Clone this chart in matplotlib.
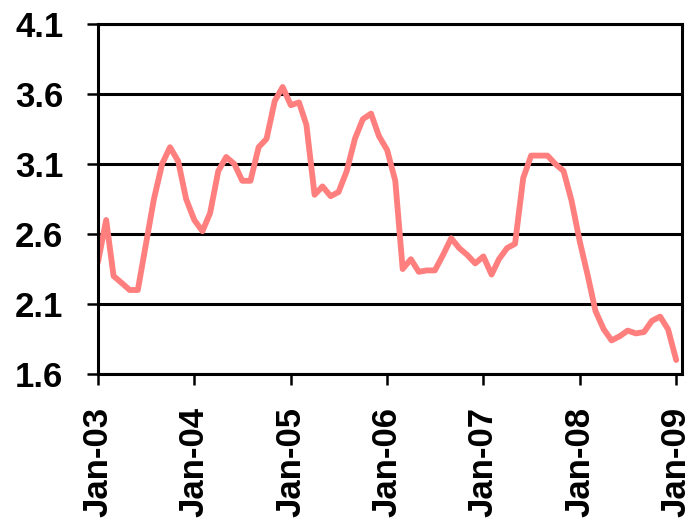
import matplotlib
matplotlib.use("Agg")
import matplotlib.pyplot as plt
import matplotlib.dates as mdates
import pandas as pd
import numpy as np

LINE_COLOR = '#FF7F7F'

# monthly values, Jan-03 .. Jan-09
values = [
    2.40, 2.70, 2.30, 2.25, 2.20, 2.20, 2.52, 2.85, 3.10, 3.22, 3.12, 2.85,  # 2003
    2.70, 2.62, 2.75, 3.05, 3.15, 3.10, 2.98, 2.98, 3.22, 3.28, 3.55, 3.65,  # 2004
    3.52, 3.54, 3.38, 2.88, 2.94, 2.87, 2.90, 3.05, 3.28, 3.42, 3.46, 3.30,  # 2005
    3.20, 2.98, 2.35, 2.42, 2.33, 2.34, 2.34, 2.45, 2.57, 2.50, 2.45, 2.39,  # 2006
    2.44, 2.31, 2.42, 2.50, 2.53, 3.00, 3.16, 3.16, 3.16, 3.10, 3.05, 2.84,  # 2007
    2.55, 2.30, 2.05, 1.92, 1.84, 1.87, 1.91, 1.89, 1.90, 1.98, 2.01, 1.92,  # 2008
    1.70,                                                                    # Jan-09
]
dates = pd.date_range('2003-01-01', periods=len(values), freq='MS')
y_ticks = [1.6, 2.1, 2.6, 3.1, 3.6, 4.1]

fig = plt.figure(figsize=(6.99, 5.25), dpi=100)
ax = fig.add_axes([0.1402, 0.2876, 0.8355, 0.6667])

ax.plot(dates, values, color=LINE_COLOR, linewidth=4.2,
        solid_joinstyle='round', solid_capstyle='round')

ax.set_ylim(1.6, 4.1)
ax.set_yticks(y_ticks)
ax.set_yticklabels([f"{t:.1f}" for t in y_ticks])
ax.set_xlim(pd.Timestamp('2003-01-01'), pd.Timestamp('2009-01-23'))
ax.xaxis.set_major_locator(mdates.YearLocator())
ax.xaxis.set_major_formatter(mdates.DateFormatter('%b-%y'))

ax.grid(axis='y', color='black', linewidth=2.2)
ax.set_axisbelow(True)
for s in ax.spines.values():
    s.set_color('black')
    s.set_linewidth(2.2)

ax.tick_params(axis='both', direction='out', length=8, width=1.8, color='black')
ax.tick_params(axis='y', pad=17)
ax.tick_params(axis='x', pad=16)
for lbl in ax.get_yticklabels() + ax.get_xticklabels():
    lbl.set_fontfamily('Liberation Sans')
    lbl.set_fontweight('bold')
    lbl.set_fontsize(25)
for lbl in ax.get_xticklabels():
    lbl.set_rotation(90)

fig.savefig('out.png', dpi=100, facecolor='white')
